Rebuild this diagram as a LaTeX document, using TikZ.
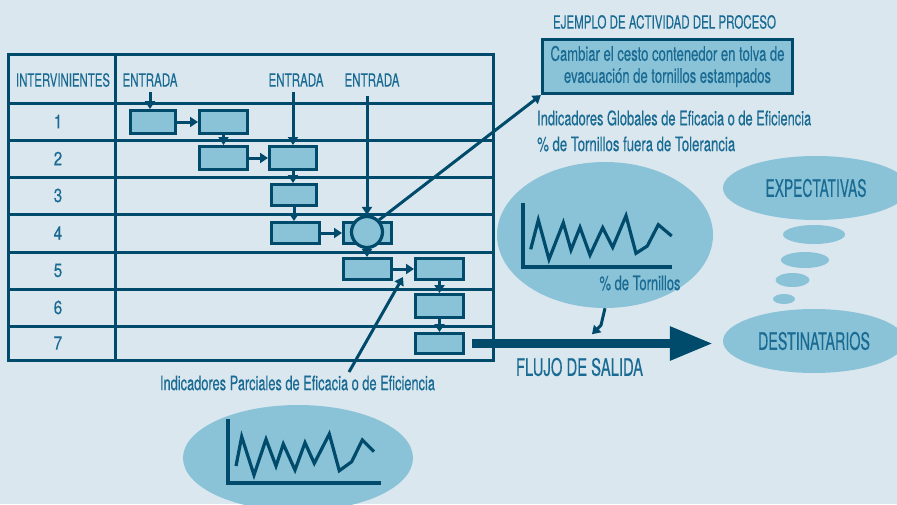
\documentclass[tikz,border=0pt]{standalone}
\usepackage{fontspec}
\usepackage{graphicx}
\setmainfont{TeX Gyre Heros}[FakeBold=0.4]
\usetikzlibrary{arrows.meta,shapes.geometric,calc}
\definecolor{bgc}{HTML}{DAE7EF}
\definecolor{dk}{HTML}{004A6B}
\definecolor{fl}{HTML}{8AC3D7}
\definecolor{tx}{HTML}{1A6B93}
\newlength\fitlen
\newcommand\fitw[2]{\settowidth\fitlen{#2}\pgfmathsetmacro\fitf{#1/\fitlen}\scalebox{\fitf}[1]{#2}}
\begin{document}
\begin{tikzpicture}[x=1pt,y=-1pt,
  pbox/.style={draw=dk, fill=fl, line width=3pt, inner sep=0pt, minimum width=48pt, minimum height=22pt},
  txt/.style={text=tx, inner sep=0pt},
  arr/.style={draw=dk, line width=3pt, -{Triangle[length=8pt,width=10pt]}},
  gridl/.style={draw=dk, line width=3pt},
  bub/.style={ellipse, fill=fl, inner sep=0pt, text=tx},
  chart/.style={draw=dk, line width=3.2pt},
  fhead/.style={font=\fontsize{18}{18}\selectfont},
  fmid/.style={font=\fontsize{20}{23}\selectfont},
  fbig/.style={font=\fontsize{24}{24}\selectfont}
]
\fill[bgc] (0,0) rectangle (897,504);
\useasboundingbox (0,0) rectangle (897,504);

% table
\draw[gridl] (8,54) rectangle (493,360);
\draw[gridl] (115,54) -- (115,360);
\foreach \y in {103,140,177,214,252,289,326} \draw[gridl] (8,\y) -- (493,\y);

% headers
\node[txt,fhead] (hint) at (63,80) {\fitw{94pt}{INTERVINIENTES}};
\node[txt,fhead] (e1) at (150,80) {\fitw{55pt}{ENTRADA}};
\node[txt,fhead] (e2) at (296,80) {\fitw{55pt}{ENTRADA}};
\node[txt,fhead] (e3) at (372,80) {\fitw{55pt}{ENTRADA}};
\foreach \n/\y in {1/121.5,2/158.5,3/195.5,4/233,5/270.5,6/307.5,7/343}
  \node[txt,font=\fontsize{19}{19}\selectfont] (r\n) at (58,\y) {\scalebox{0.8}[1]{\n}};

% process boxes
\node[pbox, minimum width=45pt, minimum height=23pt] (A) at (153,122) {};
\node[pbox, minimum height=23pt] (B) at (223.5,122) {};
\node[pbox, minimum height=23pt] (C) at (223.5,158) {};
\node[pbox, minimum width=47pt, minimum height=23pt] (D) at (293,158) {};
\node[pbox, minimum width=45pt, minimum height=21pt] (E) at (294,195) {};
\node[pbox, minimum height=21pt] (F) at (295.5,233) {};
\node[pbox, minimum height=21pt] (G) at (367.5,233) {};
\node[circle, draw=dk, fill=fl, line width=3.2pt, minimum size=31pt, inner sep=0pt] (circ) at (367,232) {};
\node[pbox, minimum height=21pt] (H) at (367.5,269) {};
\node[pbox, minimum height=21pt] (I) at (439.5,269) {};
\node[pbox, minimum height=23pt] (J) at (439.5,306) {};
\node[pbox, minimum height=20pt] (K) at (439.5,343.5) {};

% arrows in the table
\draw[arr, shorten <=5pt] (e1.south) -- (e1.south |- A.north);
\draw[arr] (A.east) -- (B.west);
\draw[arr] (B.south) -- (C.north);
\draw[arr] (C.east) -- (D.west);
\draw[arr, shorten <=5pt] (D.north |- e2.south) -- (D.north);
\draw[arr] (D.south) -- (D.south |- E.north);
\draw[arr] (E.south) -- (E.south |- F.north);
\draw[arr] (F.east) -- (G.west);
\draw[arr, shorten <=9pt] (circ.north |- e3.south) -- (circ.north);
\draw[arr] (circ.south) -- (circ.south |- H.north);
\draw[arr] (H.east) -- (I.west);
\draw[arr] (I.south) -- (J.north);
\draw[arr] (J.south) -- (K.north);

% example box
\node[txt] (ej) at (664.5,22) {\fontsize{18}{18}\selectfont\fitw{223pt}{EJEMPLO DE ACTIVIDAD DEL PROCESO}};
\node[draw=dk, fill=fl, line width=3.2pt, minimum width=250pt, minimum height=54pt, align=center, text=tx, fmid, inner sep=0pt] (ex) at (667.5,66.5)
  {\fitw{234pt}{Cambiar el cesto contenedor en tolva de}\\[-1pt]\fitw{207pt}{evacuación de tornillos estampados}};
\draw[arr] (circ.north east) -- (ex.south west);

\node[txt, fmid, anchor=west] (ig1) at (537,118) {\fitw{274pt}{Indicadores Globales de Eficacia o de Eficiencia}};
\node[txt, fmid, anchor=west] (ig2) at (537,144) {\fitw{198pt}{\% de Tornillos fuera de Tolerancia}};

% global indicator bubble
\node[bub, minimum width=216pt, minimum height=146pt] (bub) at (605,235) {};
\draw[chart] (523,203) -- (523,267) -- (672,267);
\draw[chart] (530.7,249.3) -- (538.3,220) -- (549,259.3) -- (563.3,222.7) -- (571,250) -- (580,227.3) -- (590,255) -- (602.7,227.7) -- (612.7,247.3) -- (626,215.7) -- (636,253.3) -- (647.3,246) -- (658.3,224.7) -- (671.7,236);
\node[txt, fmid] (tor) at (640,283) {\fitw{81pt}{\% de Tornillos}};
\draw[arr] (bub.south) -- ++(-4,17) -- ++(-9,9);

% expectations and recipients
\node[bub, minimum width=186pt, minimum height=64pt, fbig] (exp) at (816,188) {\fitw{101pt}{EXPECTATIVAS}};
\node[bub, minimum width=62pt, minimum height=19pt] (s1) at (814,234.5) {};
\node[bub, minimum width=48pt, minimum height=16pt] (s2) at (805,260) {};
\node[bub, minimum width=34pt, minimum height=14pt] (s3) at (792.5,280) {};
\node[bub, minimum width=22pt, minimum height=10pt] (s4) at (784,299) {};
\node[bub, minimum width=182pt, minimum height=64pt, fbig] (dest) at (814,341) {\fitw{112pt}{DESTINATARIOS}};

% output flow
\coordinate (fs) at ($(K.east)+(7,0)$);
\draw[dk, line width=9pt, -{Triangle[length=43pt,width=32pt]}] (fs) -- ($(fs -| dest.west)+(-10,0)$);
\node[txt, fbig] (flujo) at (579.5,367) {\fitw{127pt}{FLUJO DE SALIDA}};

% partial indicators
\node[txt, fmid] (ip) at (297.5,383) {\fitw{275pt}{Indicadores Parciales de Eficacia o de Eficiencia}};
\coordinate (ps) at (349,372);
\coordinate (pt) at (403,277);
\draw[arr] (ps) -- (pt);
\node[bub, minimum width=230pt, minimum height=106pt] (bub2) at (298,458) {};
\draw[chart] (228,419) -- (228,483) -- (381,483);
\draw[chart] (236,466) -- (241.7,436.7) -- (254,475) -- (266,439.3) -- (276,466) -- (283.3,444) -- (295,470) -- (305,442.7) -- (314.3,463.3) -- (329.3,434) -- (339.3,470.7) -- (351.7,461.7) -- (362.3,440) -- (374,451.7);
\end{tikzpicture}
\end{document}
